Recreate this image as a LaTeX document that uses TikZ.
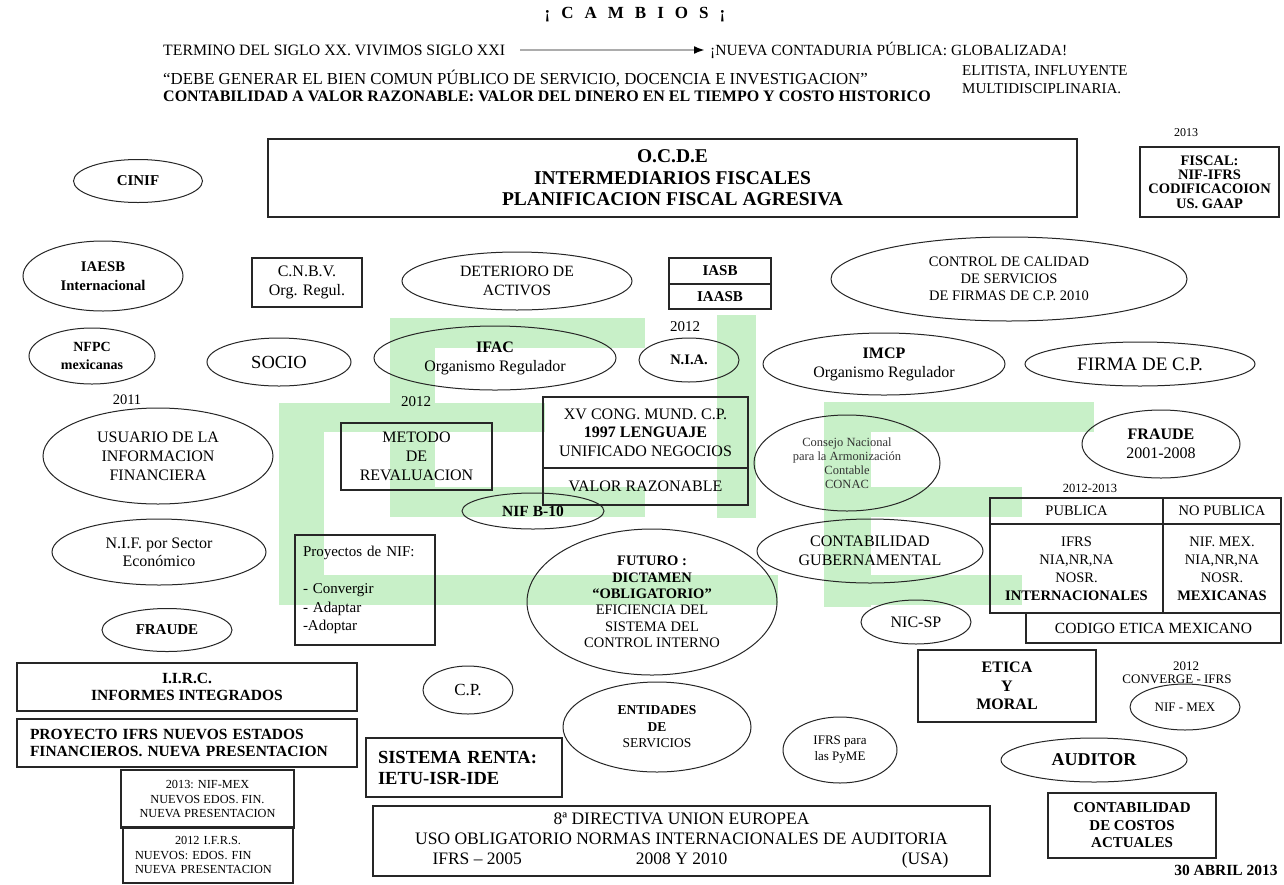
\documentclass[tikz,border=0pt]{standalone}
\usepackage{fontspec}
\setmainfont{Liberation Serif}
\usetikzlibrary{shapes.geometric,arrows.meta}
\definecolor{lg}{RGB}{200,240,200}
\newcommand\fz[2]{\fontsize{#1}{#2}\selectfont}
\begin{document}
\begin{tikzpicture}[x=1pt,y=-1pt,
  ell/.style 2 args={draw=black!85, line width=1pt, ellipse, inner sep=0pt, minimum width=#1, minimum height=#2, align=center},
  box/.style 2 args={draw=black!85, line width=1.5pt, rectangle, inner sep=0pt, minimum width=#1, minimum height=#2, align=center},
  lbl/.style={inner sep=0pt, align=center},
  arr/.style={line width=2.2pt, draw=gray!65, -{Latex[length=11pt,width=8pt,color=black]}}]
\fill[white] (0,0) rectangle (1284,884);
\useasboundingbox (0,0) rectangle (1284,884);
% green background logo
\fill[lg] (279,403) rectangle (324,605);
\fill[lg] (279,403) rectangle (545,432);
\fill[lg] (279,575) rectangle (778,605);
\fill[lg] (390,318) rectangle (435,517);
\fill[lg] (390,318) rectangle (645,348);
\fill[lg] (390,487) rectangle (645,517);
\fill[lg] (717,315) rectangle (756,518);
\fill[lg] (824,402) rectangle (871,607);
\fill[lg] (824,402) rectangle (1094,432);
\fill[lg] (871,487) rectangle (1022,517);
\fill[lg] (824,575) rectangle (1022,605);
% header
\node[lbl, font={\fz{17}{20}\bfseries}] (title) at (635,15) {¡\hspace{11pt}C\hspace{11pt}A\hspace{11pt}M\hspace{11pt}B\hspace{11pt}I\hspace{11pt}O\hspace{11pt}S\hspace{11pt}¡};
\node[lbl, anchor=west, font={\fz{15.8}{18}}] (t1) at (163,50) {TERMINO DEL SIGLO XX. VIVIMOS SIGLO XXI};
\node[lbl, anchor=west, font={\fz{15.5}{18}}] (t2) at (710,50) {¡NUEVA CONTADURIA PÚBLICA: GLOBALIZADA!};
\node[lbl, anchor=west, font={\fz{15}{18}}] (t3) at (962,72) {ELITISTA, INFLUYENTE};
\node[lbl, anchor=west, font={\fz{15}{18}}] (t4) at (962,89) {MULTIDISCIPLINARIA.};
\node[lbl, anchor=west, font={\fz{16.8}{18}}] (t5) at (163,79) {“DEBE GENERAR EL BIEN COMUN PÚBLICO DE SERVICIO, DOCENCIA E INVESTIGACION”};
\node[lbl, anchor=west, font={\fz{16}{18}\bfseries}] (t6) at (163,96) {CONTABILIDAD A VALOR RAZONABLE: VALOR DEL DINERO EN EL TIEMPO Y COSTO HISTORICO};
\draw[arr, shorten <=15pt, shorten >=5pt] (t1.east) -- (t2.west);
% top row
\node[box={809pt}{78pt}, font={\fz{19.5}{21.5}\bfseries}] (ocde) at (672.5,178) {O.C.D.E\\INTERMEDIARIOS FISCALES\\PLANIFICACION FISCAL AGRESIVA};
\node[lbl, font={\fz{12}{14}}] (y2013) at (1186,133) {2013};
\node[box={139pt}{70pt}, font={\fz{14.5}{14.3}\bfseries}] (fiscal) at (1209.5,182) {FISCAL:\\NIF-IFRS\\CODIFICACOION\\US. GAAP};
\node[ell={129pt}{43pt}, font={\fz{15}{18}\bfseries}] (cinif) at (138,181) {CINIF};
\node[ell={160pt}{70pt}, font={\fz{14.7}{19}\bfseries}] (iaesb) at (103,276) {IAESB\\Internacional};
\node[box={110pt}{49pt}, font={\fz{16}{19}}] (cnbv) at (307,282.5) {C.N.B.V.\\Org. Regul.};
\node[ell={230pt}{58pt}, font={\fz{15.7}{19}}] (deterioro) at (517,281) {DETERIORO DE\\ACTIVOS};
\node[box={102pt}{26pt}, font={\fz{15}{18}\bfseries}] (iasb) at (720,271) {IASB};
\node[box={102pt}{25pt}, font={\fz{15}{18}\bfseries}] (iaasb) at (720,296.5) {IAASB};
\node[ell={356pt}{84pt}, font={\fz{14.5}{17}}] (control) at (1009,279) {CONTROL DE CALIDAD\\DE SERVICIOS\\DE FIRMAS DE C.P. 2010};
% second row
\node[ell={126pt}{56pt}, font={\fz{14}{18}\bfseries}] (nfpc) at (92,356) {NFPC\\mexicanas};
\node[ell={144pt}{48pt}, font={\fz{18.5}{20}}] (socio) at (279,362) {SOCIO};
\node[ell={242pt}{64pt}, font={\fz{16}{19}}] (ifac) at (495,358) {\textbf{IFAC}\\Organismo Regulador};
\node[lbl, font={\fz{15}{18}}] (y2012a) at (685,327) {2012};
\node[ell={100pt}{44pt}, font={\fz{14.5}{17}\bfseries}] (nia) at (689,360) {N.I.A.};
\node[ell={242pt}{62pt}, font={\fz{16}{19}}] (imcp) at (884,364) {\textbf{IMCP}\\Organismo Regulador};
\node[ell={230pt}{44pt}, font={\fz{19}{22}}] (firma) at (1140,364) {FIRMA DE C.P.};
% third row
\node[lbl, font={\fz{14.5}{17}}] (y2011) at (127,400) {2011};
\node[ell={230pt}{96pt}, font={\fz{16}{19}}] (usuario) at (158,456) {USUARIO DE LA\\INFORMACION\\FINANCIERA};
\node[lbl, font={\fz{15}{18}}] (y2012b) at (416,402) {2012};
\node[box={151pt}{67pt}, font={\fz{16}{19}}] (metodo) at (416.5,456.5) {METODO\\DE\\REVALUACION};
\node[box={205pt}{71pt}, font={\fz{16}{18.3}}] (xv) at (645.5,432.5) {XV CONG. MUND. C.P.\\\textbf{1997 LENGUAJE}\\UNIFICADO NEGOCIOS};
\node[box={205pt}{37pt}, font={\fz{16}{19}}] (valor) at (645.5,486.5) {VALOR RAZONABLE};
\node[ell={186pt}{96pt}, font={\fz{12.5}{14}}, text=black!80] (conac) at (847,463) {Consejo Nacional\\para la Armonización\\Contable\\CONAC};
\node[ell={158pt}{68pt}, font={\fz{16}{19}}] (fraude2) at (1161,444) {\textbf{FRAUDE}\\2001-2008};
\node[lbl, font={\fz{12.5}{15}}] (y1213) at (1090,488) {2012-2013};
% fourth row
\node[ell={214pt}{66pt}, font={\fz{16}{18}}] (nifsector) at (159,552) {N.I.F. por Sector\\Económico};
\node[ell={142pt}{36pt}, font={\fz{15.5}{18}\bfseries}] (nifb10) at (533,511) {NIF B-10};
\node[box={140pt}{110pt}, align=left, text width=124pt, font={\fz{15}{18.5}}] (proy) at (365,590) {Proyectos de NIF:\\[18.5pt]- Convergir\\- Adaptar\\-Adoptar};
\node[ell={250pt}{146pt}, font={\fz{14.5}{16.4}}] (futuro) at (652,602) {\textbf{FUTURO :}\\\textbf{DICTAMEN}\\\textbf{“OBLIGATORIO”}\\EFICIENCIA DEL\\SISTEMA DEL\\CONTROL INTERNO};
\node[ell={226pt}{64pt}, font={\fz{16}{19}}] (gub) at (870,551) {CONTABILIDAD\\GUBERNAMENTAL};
\node[ell={110pt}{44pt}, font={\fz{16}{19}}] (nicsp) at (916,622) {NIC-SP};
\node[ell={130pt}{43pt}, font={\fz{15}{18}\bfseries}] (fraude) at (167,630) {FRAUDE};
% table
\node[box={173pt}{26pt}, font={\fz{14.5}{18}}] (pubh) at (1076.5,511) {PUBLICA};
\node[box={118pt}{26pt}, font={\fz{14.5}{18}}] (npubh) at (1222,511) {NO PUBLICA};
\node[box={173pt}{89pt}, font={\fz{14.5}{18}}] (pubb) at (1076.5,568.5) {IFRS\\NIA,NR,NA\\NOSR.\\\textbf{INTERNACIONALES}};
\node[box={118pt}{89pt}, font={\fz{14.5}{18}}] (npubb) at (1222,568.5) {NIF. MEX.\\NIA,NR,NA\\NOSR.\\\textbf{MEXICANAS}};
\node[box={255pt}{30pt}, font={\fz{15.5}{18}}] (codigo) at (1153.5,628) {CODIGO ETICA MEXICANO};
% bottom area
\node[box={340pt}{48pt}, font={\fz{15.5}{17}\bfseries}] (iirc) at (187,687) {I.I.R.C.\\INFORMES INTEGRADOS};
\node[box={340pt}{48pt}, align=left, text width=314pt, font={\fz{15.5}{17}\bfseries}] (proyifrs) at (187,743) {PROYECTO IFRS NUEVOS ESTADOS\\FINANCIEROS. NUEVA PRESENTACION};
\node[box={173pt}{58pt}, font={\fz{12.3}{14.5}}] (nm2013) at (207.5,799) {2013: NIF-MEX\\NUEVOS EDOS. FIN.\\NUEVA PRESENTACION};
\node[box={170pt}{56pt}, align=left, text width=146pt, font={\fz{12.3}{14.5}}] (ifrs2012) at (208,855) {\hfill 2012 I.F.R.S.\hfill\null\\NUEVOS: EDOS. FIN\\NUEVA PRESENTACION};
\node[box={196pt}{59pt}, align=left, text width=172pt, font={\fz{18.5}{21}\bfseries}] (renta) at (464,767.5) {SISTEMA RENTA:\\IETU-ISR-IDE};
\node[ell={90pt}{48pt}, font={\fz{17}{20}}] (cp) at (468,690) {C.P.};
\node[ell={188pt}{90pt}, font={\fz{13.5}{16.5}}] (entidades) at (657,727) {\textbf{ENTIDADES}\\\textbf{DE}\\SERVICIOS};
\node[ell={114pt}{66pt}, font={\fz{13}{16}}] (pyme) at (840,750) {IFRS para\\las PyME};
\node[box={617pt}{70pt}, font={\fz{17.5}{20}}] (directiva) at (681.5,841) {8ª DIRECTIVA UNION EUROPEA\\USO OBLIGATORIO NORMAS INTERNACIONALES DE AUDITORIA\\\makebox[534pt][l]{\hspace{18pt}IFRS – 2005\hspace{114pt}2008 Y 2010\hfill(USA)}};
\node[box={178pt}{72pt}, font={\fz{16}{18.3}\bfseries}] (etica) at (1007,686) {ETICA\\Y\\MORAL};
\node[lbl, font={\fz{13}{13}}] (y2012c) at (1186,666) {2012};
\node[lbl, font={\fz{13}{13}}] (conv) at (1177,679) {CONVERGE - IFRS};
\node[ell={110pt}{46pt}, font={\fz{13}{15}}] (nifmex) at (1185,707) {NIF - MEX};
\node[ell={186pt}{44pt}, font={\fz{18}{20}\bfseries}] (auditor) at (1094,760) {AUDITOR};
\node[box={168pt}{65pt}, font={\fz{15}{17.5}\bfseries}] (costos) at (1132,825.5) {CONTABILIDAD\\DE COSTOS\\ACTUALES};
\node[lbl, font={\fz{15.5}{18}\bfseries}] (fecha) at (1226,870) {30 ABRIL 2013};
\end{tikzpicture}
\end{document}
